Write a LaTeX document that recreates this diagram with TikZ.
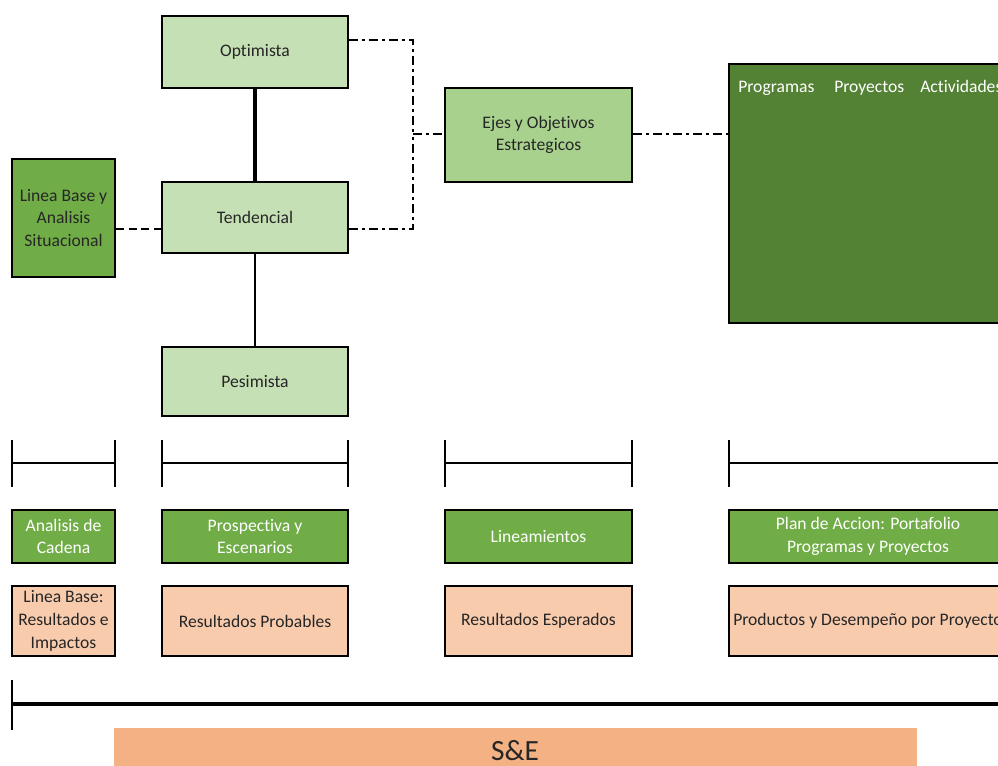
\documentclass[tikz,border=0pt]{standalone}
\usepackage{fontspec}
\setmainfont{Carlito}[Ligatures=NoCommon]
\definecolor{lgreen}{HTML}{C5E0B4}
\definecolor{mgreen}{HTML}{A9D18E}
\definecolor{green}{HTML}{70AD47}
\definecolor{dgreen}{HTML}{548235}
\definecolor{peach}{HTML}{F8CBAD}
\definecolor{orange}{HTML}{F4B183}
\tikzset{
  box/.style={draw=black, line width=1.5pt, inner sep=1pt, align=center,
    font=\fontsize{13.2}{17}\selectfont, text=black!85},
  wbox/.style={box, text=white},
  sz/.style 2 args={minimum width={0.75pt*#1}, minimum height={0.75pt*#2}},
  dashdot/.style={line width=2.2pt, dash pattern=on 7pt off 3pt on 2pt off 3pt},
  dsh/.style={line width=2.2pt, dash pattern=on 6pt off 3.5pt},
  brk/.style={line width=1.5pt},
  hdr/.style={inner sep=0pt, anchor=base west, text=white, font=\fontsize{13.2}{16}\selectfont}
}
\begin{document}
\begin{tikzpicture}[x=0.75pt, y=-0.75pt]
\useasboundingbox (0,0) rectangle (998,766);
\clip (0,0) rectangle (998,766);
% top scenario boxes
\node[box, fill=lgreen, sz={186}{72}] (opt) at (255,52) {Optimista};
\node[box, fill=lgreen, sz={186}{71}] (tend) at (255,217.5) {Tendencial};
\node[box, fill=lgreen, sz={186}{69}] (pes) at (255,381.5) {Pesimista};
\node[box, fill=green, sz={103}{118}] (lb) at (63.5,218) {Linea Base y\\Analisis\\Situacional};
\node[box, fill=mgreen, sz={187}{94}] (ejes) at (538.5,135) {Ejes y Objetivos\\Estrategicos};
\node[draw=black, line width=1.5pt, fill=dgreen, sz={278}{259}, inner sep=0pt] (dark) at (868,193.5) {};
\node[hdr] (p1) at (738,93) {Programas};
\node[hdr] (p2) at (834,93) {Proyectos};
\node[hdr] (p3) at (920,93) {Actividades};
% connectors
\draw[line width=2.6pt] (opt.south) -- (tend.north);
\draw[line width=1.9pt] (tend.south) -- (pes.north);
\draw[dsh] (lb.east |- 0,229) -- (tend.west |- 0,229);
\coordinate (jt) at (413,134);
\draw[dashdot] (opt.east |- 0,40) -- (413,40) -- (jt);
\draw[dashdot] (tend.east |- 0,229) -- (413,229) -- (jt);
\draw[dashdot] (jt) -- (ejes.west |- jt);
\draw[dashdot] (ejes.east |- jt) -- (dark.west |- jt);
% brackets
\foreach \a/\b in {12/115, 162/348, 445/632, 729/1010}{
  \draw[brk] (\a,440) -- (\a,487);
  \draw[brk] (\b,440) -- (\b,487);
  \draw[brk] (\a,463) -- (\b,463);
}
% green row
\node[wbox, fill=green, sz={103}{53}] (g1) at (63.5,536.5) {Analisis de\\Cadena};
\node[wbox, fill=green, sz={186}{53}] (g2) at (255,536.5) {Prospectiva y\\Escenarios};
\node[wbox, fill=green, sz={187}{53}] (g3) at (538.5,536.5) {Lineamientos};
\node[wbox, fill=green, sz={278}{53}] (g4) at (868,536.5) {Plan de Accion: Portafolio\\Programas y Proyectos};
% peach row
\node[box, fill=peach, sz={103}{70}] (r1) at (63.5,621) {Linea Base:\\Resultados e\\Impactos};
\node[box, fill=peach, sz={186}{70}] (r2) at (255,621) {Resultados Probables};
\node[box, fill=peach, sz={187}{70}] (r3) at (538.5,621) {Resultados Esperados};
\node[box, fill=peach, sz={278}{70}] (r4) at (868,621) {Productos y Desempeño por Proyecto};
% timeline
\coordinate (t0) at (12,704);
\coordinate (t1) at (1000,704);
\draw[line width=3pt] (t0) -- (t1);
\draw[line width=1.8pt] (12,680) -- (12,730);
% S&E bar
\node[fill=orange, sz={803}{50}, inner sep=0pt, anchor=north west] (se) at (114,728) {};
\node[anchor=base, inner sep=0pt, font=\fontsize{22}{26}\selectfont, text=black!85] (setext) at (515,760) {S\&E};
\end{tikzpicture}
\end{document}
